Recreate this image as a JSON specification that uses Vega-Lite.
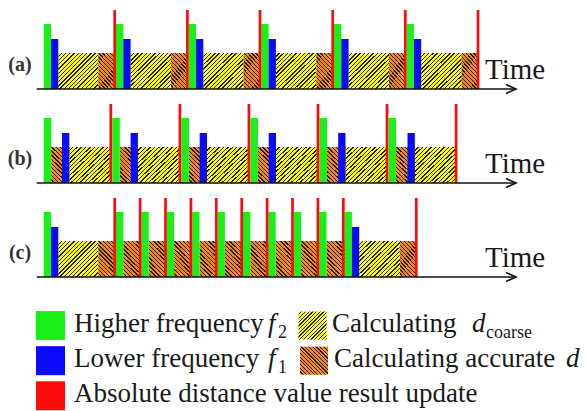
{
"$schema": "https://vega.github.io/schema/vega-lite/v6.json",
"background": "white",
"padding": {"left": 0, "top": 5, "right": 0, "bottom": 0},
"spacing": 0,
"config": {"view": {"stroke": null}, "font": "Liberation Serif", "text": {"font": "Liberation Serif"}},
"resolve": {"scale": {"x": "independent", "y": "independent"}},
"datasets": {
"timeline": [
{"p":"a","k":"axis","lab":"(a)"},
{"p":"b","k":"axis","lab":"(b)"},
{"p":"c","k":"axis","lab":"(c)"},
{"p":"a","k":"g","s":43.7,"e":51.0},{"p":"a","k":"g","s":116.0,"e":123.3},{"p":"a","k":"g","s":188.7,"e":196.0},{"p":"a","k":"g","s":261.3,"e":268.6},{"p":"a","k":"g","s":334.0,"e":341.3},{"p":"a","k":"g","s":406.6,"e":413.9},
{"p":"a","k":"b","s":51.0,"e":58.3},{"p":"a","k":"b","s":123.3,"e":130.6},{"p":"a","k":"b","s":196.0,"e":203.3},{"p":"a","k":"b","s":268.6,"e":275.9},{"p":"a","k":"b","s":341.3,"e":348.6},{"p":"a","k":"b","s":413.9,"e":421.2},
{"p":"a","k":"y","s":58.3,"e":98.3},{"p":"a","k":"y","s":130.6,"e":171.0},{"p":"a","k":"y","s":203.3,"e":243.6},{"p":"a","k":"y","s":275.9,"e":316.3},{"p":"a","k":"y","s":348.6,"e":389.0},{"p":"a","k":"y","s":421.2,"e":461.7},
{"p":"a","k":"o","s":98.3,"e":114.7},{"p":"a","k":"o","s":171.0,"e":187.4},{"p":"a","k":"o","s":243.6,"e":260.0},{"p":"a","k":"o","s":316.3,"e":332.7},{"p":"a","k":"o","s":389.0,"e":405.3},{"p":"a","k":"o","s":461.7,"e":478.0},
{"p":"a","k":"r","s":114.7},{"p":"a","k":"r","s":187.4},{"p":"a","k":"r","s":260.0},{"p":"a","k":"r","s":332.7},{"p":"a","k":"r","s":405.3},{"p":"a","k":"r","s":478.0},
{"p":"b","k":"g","s":43.7,"e":51.2},{"p":"b","k":"g","s":112.3,"e":119.8},{"p":"b","k":"g","s":181.4,"e":188.9},{"p":"b","k":"g","s":250.4,"e":257.9},{"p":"b","k":"g","s":319.5,"e":327.0},{"p":"b","k":"g","s":388.5,"e":396.0},
{"p":"b","k":"b","s":62.0,"e":69.3},{"p":"b","k":"b","s":130.6,"e":137.9},{"p":"b","k":"b","s":199.7,"e":207.0},{"p":"b","k":"b","s":268.7,"e":276.0},{"p":"b","k":"b","s":338.2,"e":345.5},{"p":"b","k":"b","s":407.5,"e":414.8},
{"p":"b","k":"o","s":51.2,"e":69.3},{"p":"b","k":"o","s":119.8,"e":137.9},{"p":"b","k":"o","s":188.9,"e":207.0},{"p":"b","k":"o","s":257.9,"e":276.0},{"p":"b","k":"o","s":327.0,"e":345.5},{"p":"b","k":"o","s":396.0,"e":414.8},
{"p":"b","k":"y","s":69.3,"e":110.8},{"p":"b","k":"y","s":137.9,"e":179.9},{"p":"b","k":"y","s":207.0,"e":248.9},{"p":"b","k":"y","s":276.0,"e":318.0},{"p":"b","k":"y","s":345.5,"e":387.0},{"p":"b","k":"y","s":414.8,"e":456.1},
{"p":"b","k":"r","s":110.8},{"p":"b","k":"r","s":179.9},{"p":"b","k":"r","s":248.9},{"p":"b","k":"r","s":318.0},{"p":"b","k":"r","s":387.0},{"p":"b","k":"r","s":456.1},
{"p":"c","k":"g","s":43.7,"e":51.0},{"p":"c","k":"g","s":116.0,"e":123.3},{"p":"c","k":"g","s":141.4,"e":148.7},{"p":"c","k":"g","s":166.8,"e":174.1},{"p":"c","k":"g","s":192.2,"e":199.5},{"p":"c","k":"g","s":217.6,"e":224.9},{"p":"c","k":"g","s":243.0,"e":250.3},{"p":"c","k":"g","s":268.4,"e":275.7},{"p":"c","k":"g","s":293.8,"e":301.1},{"p":"c","k":"g","s":319.2,"e":326.5},{"p":"c","k":"g","s":344.6,"e":351.9},
{"p":"c","k":"b","s":51.0,"e":58.3},{"p":"c","k":"b","s":351.9,"e":359.2},
{"p":"c","k":"y","s":58.3,"e":98.3},{"p":"c","k":"y","s":359.2,"e":400.0},
{"p":"c","k":"o","s":98.3,"e":116.0},{"p":"c","k":"o","s":123.3,"e":141.4},{"p":"c","k":"o","s":148.7,"e":166.8},{"p":"c","k":"o","s":174.1,"e":192.2},{"p":"c","k":"o","s":199.5,"e":217.6},{"p":"c","k":"o","s":224.9,"e":243.0},{"p":"c","k":"o","s":250.3,"e":268.4},{"p":"c","k":"o","s":275.7,"e":293.8},{"p":"c","k":"o","s":301.1,"e":319.2},{"p":"c","k":"o","s":326.5,"e":344.6},{"p":"c","k":"o","s":400.0,"e":416.3},
{"p":"c","k":"r","s":114.7},{"p":"c","k":"r","s":140.1},{"p":"c","k":"r","s":165.5},{"p":"c","k":"r","s":190.9},{"p":"c","k":"r","s":216.3},{"p":"c","k":"r","s":241.7},{"p":"c","k":"r","s":267.1},{"p":"c","k":"r","s":292.5},{"p":"c","k":"r","s":317.9},{"p":"c","k":"r","s":343.3},{"p":"c","k":"r","s":416.3}
],
"legend": [
{"role":"sq","c":"green","r":1,"x":50.5},
{"role":"sq","c":"blue","r":2,"x":50.5},
{"role":"sq","c":"red","r":3,"x":50.5},
{"role":"sy","r":1,"x":312.5},
{"role":"so","r":2,"x":314},
{"role":"txt","r":1,"x":74,"t":"Higher frequency"},
{"role":"txt","r":1,"x":332,"t":"Calculating"},
{"role":"txt","r":2,"x":74,"t":"Lower frequency"},
{"role":"txt","r":2,"x":334,"t":"Calculating accurate"},
{"role":"txt","r":3,"x":74,"t":"Absolute distance value result update"},
{"role":"it","r":1,"x":268,"t":"f"},
{"role":"it","r":2,"x":268,"t":"f"},
{"role":"it","r":1,"x":472,"t":"d"},
{"role":"it","r":2,"x":566,"t":"d"},
{"role":"sub","r":1,"x":278,"t":"2"},
{"role":"sub","r":2,"x":278,"t":"1"},
{"role":"sub","r":1,"x":486,"t":"coarse"}
]
},
"vconcat": [
{
"data": {"name": "timeline"},
"facet": {"row": {"field": "p", "type": "nominal", "header": {"labels": false, "title": null}}},
"spacing": 0,
"spec": {
"width": 587,
"height": 94,
"layer": [
{
"transform": [{"filter": "datum.k === 'y'"}],
"mark": {"type": "rect", "strokeWidth": 0, "fill": {"gradient": "linear", "x1": 0, "y1": 0, "x2": 1.0497, "y2": 0.9448, "stops": [
{"offset":0,"color":"#ffff00"},{"offset":0.037,"color":"#ffff00"},{"offset":0.037,"color":"#1a1a1a"},{"offset":0.0556,"color":"#1a1a1a"},
{"offset":0.0556,"color":"#ffff00"},{"offset":0.0926,"color":"#ffff00"},{"offset":0.0926,"color":"#1a1a1a"},{"offset":0.1111,"color":"#1a1a1a"},
{"offset":0.1111,"color":"#ffff00"},{"offset":0.1481,"color":"#ffff00"},{"offset":0.1481,"color":"#1a1a1a"},{"offset":0.1667,"color":"#1a1a1a"},
{"offset":0.1667,"color":"#ffff00"},{"offset":0.2037,"color":"#ffff00"},{"offset":0.2037,"color":"#1a1a1a"},{"offset":0.2222,"color":"#1a1a1a"},
{"offset":0.2222,"color":"#ffff00"},{"offset":0.2593,"color":"#ffff00"},{"offset":0.2593,"color":"#1a1a1a"},{"offset":0.2778,"color":"#1a1a1a"},
{"offset":0.2778,"color":"#ffff00"},{"offset":0.3148,"color":"#ffff00"},{"offset":0.3148,"color":"#1a1a1a"},{"offset":0.3333,"color":"#1a1a1a"},
{"offset":0.3333,"color":"#ffff00"},{"offset":0.3704,"color":"#ffff00"},{"offset":0.3704,"color":"#1a1a1a"},{"offset":0.3889,"color":"#1a1a1a"},
{"offset":0.3889,"color":"#ffff00"},{"offset":0.4259,"color":"#ffff00"},{"offset":0.4259,"color":"#1a1a1a"},{"offset":0.4444,"color":"#1a1a1a"},
{"offset":0.4444,"color":"#ffff00"},{"offset":0.4815,"color":"#ffff00"},{"offset":0.4815,"color":"#1a1a1a"},{"offset":0.5,"color":"#1a1a1a"},
{"offset":0.5,"color":"#ffff00"},{"offset":0.537,"color":"#ffff00"},{"offset":0.537,"color":"#1a1a1a"},{"offset":0.5556,"color":"#1a1a1a"},
{"offset":0.5556,"color":"#ffff00"},{"offset":0.5926,"color":"#ffff00"},{"offset":0.5926,"color":"#1a1a1a"},{"offset":0.6111,"color":"#1a1a1a"},
{"offset":0.6111,"color":"#ffff00"},{"offset":0.6481,"color":"#ffff00"},{"offset":0.6481,"color":"#1a1a1a"},{"offset":0.6667,"color":"#1a1a1a"},
{"offset":0.6667,"color":"#ffff00"},{"offset":0.7037,"color":"#ffff00"},{"offset":0.7037,"color":"#1a1a1a"},{"offset":0.7222,"color":"#1a1a1a"},
{"offset":0.7222,"color":"#ffff00"},{"offset":0.7593,"color":"#ffff00"},{"offset":0.7593,"color":"#1a1a1a"},{"offset":0.7778,"color":"#1a1a1a"},
{"offset":0.7778,"color":"#ffff00"},{"offset":0.8148,"color":"#ffff00"},{"offset":0.8148,"color":"#1a1a1a"},{"offset":0.8333,"color":"#1a1a1a"},
{"offset":0.8333,"color":"#ffff00"},{"offset":0.8704,"color":"#ffff00"},{"offset":0.8704,"color":"#1a1a1a"},{"offset":0.8889,"color":"#1a1a1a"},
{"offset":0.8889,"color":"#ffff00"},{"offset":0.9259,"color":"#ffff00"},{"offset":0.9259,"color":"#1a1a1a"},{"offset":0.9444,"color":"#1a1a1a"},
{"offset":0.9444,"color":"#ffff00"},{"offset":0.9815,"color":"#ffff00"},{"offset":0.9815,"color":"#1a1a1a"},{"offset":1,"color":"#1a1a1a"}
]}},
"encoding": {
"x": {"field": "s", "type": "quantitative", "scale": {"domain": [0, 587], "nice": false, "zero": false}, "axis": null},
"x2": {"field": "e"},
"y": {"datum": 0, "type": "quantitative", "scale": {"domain": [-10, 84], "nice": false, "zero": false}, "axis": null},
"y2": {"datum": 36}
}
},
{
"transform": [{"filter": "datum.k === 'o'"}],
"mark": {"type": "rect", "strokeWidth": 0, "fill": {"gradient": "linear", "x1": 0, "y1": 1, "x2": 0.5843, "y2": -0.202, "stops": [
{"offset":0,"color":"#f5890f"},{"offset":0.0513,"color":"#f5890f"},{"offset":0.0513,"color":"#1a1a1a"},{"offset":0.0769,"color":"#1a1a1a"},
{"offset":0.0769,"color":"#f5890f"},{"offset":0.1282,"color":"#f5890f"},{"offset":0.1282,"color":"#1a1a1a"},{"offset":0.1538,"color":"#1a1a1a"},
{"offset":0.1538,"color":"#f5890f"},{"offset":0.2051,"color":"#f5890f"},{"offset":0.2051,"color":"#1a1a1a"},{"offset":0.2308,"color":"#1a1a1a"},
{"offset":0.2308,"color":"#f5890f"},{"offset":0.2821,"color":"#f5890f"},{"offset":0.2821,"color":"#1a1a1a"},{"offset":0.3077,"color":"#1a1a1a"},
{"offset":0.3077,"color":"#f5890f"},{"offset":0.359,"color":"#f5890f"},{"offset":0.359,"color":"#1a1a1a"},{"offset":0.3846,"color":"#1a1a1a"},
{"offset":0.3846,"color":"#f5890f"},{"offset":0.4359,"color":"#f5890f"},{"offset":0.4359,"color":"#1a1a1a"},{"offset":0.4615,"color":"#1a1a1a"},
{"offset":0.4615,"color":"#f5890f"},{"offset":0.5128,"color":"#f5890f"},{"offset":0.5128,"color":"#1a1a1a"},{"offset":0.5385,"color":"#1a1a1a"},
{"offset":0.5385,"color":"#f5890f"},{"offset":0.5897,"color":"#f5890f"},{"offset":0.5897,"color":"#1a1a1a"},{"offset":0.6154,"color":"#1a1a1a"},
{"offset":0.6154,"color":"#f5890f"},{"offset":0.6667,"color":"#f5890f"},{"offset":0.6667,"color":"#1a1a1a"},{"offset":0.6923,"color":"#1a1a1a"},
{"offset":0.6923,"color":"#f5890f"},{"offset":0.7436,"color":"#f5890f"},{"offset":0.7436,"color":"#1a1a1a"},{"offset":0.7692,"color":"#1a1a1a"},
{"offset":0.7692,"color":"#f5890f"},{"offset":0.8205,"color":"#f5890f"},{"offset":0.8205,"color":"#1a1a1a"},{"offset":0.8462,"color":"#1a1a1a"},
{"offset":0.8462,"color":"#f5890f"},{"offset":0.8974,"color":"#f5890f"},{"offset":0.8974,"color":"#1a1a1a"},{"offset":0.9231,"color":"#1a1a1a"},
{"offset":0.9231,"color":"#f5890f"},{"offset":0.9744,"color":"#f5890f"},{"offset":0.9744,"color":"#1a1a1a"},{"offset":1,"color":"#1a1a1a"}
]}},
"encoding": {
"x": {"field": "s", "type": "quantitative", "scale": {"domain": [0, 587], "nice": false, "zero": false}, "axis": null},
"x2": {"field": "e"},
"y": {"datum": 0, "type": "quantitative", "scale": {"domain": [-10, 84], "nice": false, "zero": false}, "axis": null},
"y2": {"datum": 36}
}
},
{
"transform": [{"filter": "datum.k === 'g'"}],
"mark": {"type": "rect", "fill": "#18f018", "strokeWidth": 0},
"encoding": {
"x": {"field": "s", "type": "quantitative", "scale": {"domain": [0, 587], "nice": false, "zero": false}, "axis": null},
"x2": {"field": "e"},
"y": {"datum": 0, "type": "quantitative", "scale": {"domain": [-10, 84], "nice": false, "zero": false}, "axis": null},
"y2": {"datum": 65}
}
},
{
"transform": [{"filter": "datum.k === 'b'"}],
"mark": {"type": "rect", "fill": "#0a0aff", "strokeWidth": 0},
"encoding": {
"x": {"field": "s", "type": "quantitative", "scale": {"domain": [0, 587], "nice": false, "zero": false}, "axis": null},
"x2": {"field": "e"},
"y": {"datum": 0, "type": "quantitative", "scale": {"domain": [-10, 84], "nice": false, "zero": false}, "axis": null},
"y2": {"datum": 50}
}
},
{
"transform": [{"filter": "datum.k === 'r'"}],
"mark": {"type": "rule", "stroke": "#ff0a0a", "strokeWidth": 2.7},
"encoding": {
"x": {"field": "s", "type": "quantitative", "scale": {"domain": [0, 587], "nice": false, "zero": false}, "axis": null},
"y": {"datum": 0, "type": "quantitative", "scale": {"domain": [-10, 84], "nice": false, "zero": false}, "axis": null},
"y2": {"datum": 79}
}
},
{
"transform": [{"filter": "datum.k === 'axis'"}],
"mark": {"type": "rule", "stroke": "#111111", "strokeWidth": 1.6},
"encoding": {
"x": {"datum": 36.7, "type": "quantitative", "scale": {"domain": [0, 587], "nice": false, "zero": false}, "axis": null},
"x2": {"datum": 515},
"y": {"datum": 0, "type": "quantitative", "scale": {"domain": [-10, 84], "nice": false, "zero": false}, "axis": null}
}
},
{
"transform": [{"filter": "datum.k === 'axis'"}],
"mark": {"type": "point", "shape": "M-1,-0.45L0,0L-1,0.45", "size": 400, "filled": false, "stroke": "#111111", "strokeWidth": 1.6, "opacity": 1},
"encoding": {
"x": {"datum": 516, "type": "quantitative", "scale": {"domain": [0, 587], "nice": false, "zero": false}, "axis": null},
"y": {"datum": 0, "type": "quantitative", "scale": {"domain": [-10, 84], "nice": false, "zero": false}, "axis": null}
}
},
{
"transform": [{"filter": "datum.k === 'axis'"}],
"mark": {"type": "text", "text": "Time", "font": "Liberation Serif", "fontSize": 29, "align": "left", "baseline": "alphabetic", "color": "#1a1a1a"},
"encoding": {
"x": {"datum": 485, "type": "quantitative", "scale": {"domain": [0, 587], "nice": false, "zero": false}, "axis": null},
"y": {"datum": 10, "type": "quantitative", "scale": {"domain": [-10, 84], "nice": false, "zero": false}, "axis": null}
}
},
{
"transform": [{"filter": "datum.k === 'axis'"}],
"mark": {"type": "text", "font": "Liberation Serif", "fontSize": 20, "fontWeight": "bold", "align": "center", "baseline": "alphabetic", "color": "#333333"},
"encoding": {
"x": {"datum": 20, "type": "quantitative", "scale": {"domain": [0, 587], "nice": false, "zero": false}, "axis": null},
"y": {"datum": 18, "type": "quantitative", "scale": {"domain": [-10, 84], "nice": false, "zero": false}, "axis": null},
"text": {"field": "lab"}
}
}
]
}
},
{
"width": 587,
"height": 124,
"data": {"name": "legend"},
"layer": [
{
"transform": [{"filter": "datum.role === 'sq'"}],
"mark": {"type": "point", "shape": "square", "size": 841, "filled": true, "opacity": 1, "strokeWidth": 0},
"encoding": {
"x": {"field": "x", "type": "quantitative", "scale": {"domain": [0, 587], "nice": false, "zero": false}, "axis": null},
"y": {"field": "r", "type": "quantitative", "scale": {"domain": [-0.0986, 3.4338], "reverse": true, "nice": false, "zero": false}, "axis": null},
"color": {"field": "c", "type": "nominal", "scale": {"domain": ["green", "blue", "red"], "range": ["#18f018", "#0a0aff", "#ff0a0a"]}, "legend": null}
}
},
{
"transform": [{"filter": "datum.role === 'sy'"}],
"mark": {"type": "point", "shape": "square", "size": 784, "filled": true, "opacity": 1, "strokeWidth": 0, "fill": {"gradient": "linear", "x1": 0, "y1": 0, "x2": 1, "y2": 1, "stops": [
{"offset":0,"color":"#ffff00"},{"offset":0.0444,"color":"#ffff00"},{"offset":0.0444,"color":"#1a1a1a"},{"offset":0.0667,"color":"#1a1a1a"},
{"offset":0.0667,"color":"#ffff00"},{"offset":0.1111,"color":"#ffff00"},{"offset":0.1111,"color":"#1a1a1a"},{"offset":0.1333,"color":"#1a1a1a"},
{"offset":0.1333,"color":"#ffff00"},{"offset":0.1778,"color":"#ffff00"},{"offset":0.1778,"color":"#1a1a1a"},{"offset":0.2,"color":"#1a1a1a"},
{"offset":0.2,"color":"#ffff00"},{"offset":0.2444,"color":"#ffff00"},{"offset":0.2444,"color":"#1a1a1a"},{"offset":0.2667,"color":"#1a1a1a"},
{"offset":0.2667,"color":"#ffff00"},{"offset":0.3111,"color":"#ffff00"},{"offset":0.3111,"color":"#1a1a1a"},{"offset":0.3333,"color":"#1a1a1a"},
{"offset":0.3333,"color":"#ffff00"},{"offset":0.3778,"color":"#ffff00"},{"offset":0.3778,"color":"#1a1a1a"},{"offset":0.4,"color":"#1a1a1a"},
{"offset":0.4,"color":"#ffff00"},{"offset":0.4444,"color":"#ffff00"},{"offset":0.4444,"color":"#1a1a1a"},{"offset":0.4667,"color":"#1a1a1a"},
{"offset":0.4667,"color":"#ffff00"},{"offset":0.5111,"color":"#ffff00"},{"offset":0.5111,"color":"#1a1a1a"},{"offset":0.5333,"color":"#1a1a1a"},
{"offset":0.5333,"color":"#ffff00"},{"offset":0.5778,"color":"#ffff00"},{"offset":0.5778,"color":"#1a1a1a"},{"offset":0.6,"color":"#1a1a1a"},
{"offset":0.6,"color":"#ffff00"},{"offset":0.6444,"color":"#ffff00"},{"offset":0.6444,"color":"#1a1a1a"},{"offset":0.6667,"color":"#1a1a1a"},
{"offset":0.6667,"color":"#ffff00"},{"offset":0.7111,"color":"#ffff00"},{"offset":0.7111,"color":"#1a1a1a"},{"offset":0.7333,"color":"#1a1a1a"},
{"offset":0.7333,"color":"#ffff00"},{"offset":0.7778,"color":"#ffff00"},{"offset":0.7778,"color":"#1a1a1a"},{"offset":0.8,"color":"#1a1a1a"},
{"offset":0.8,"color":"#ffff00"},{"offset":0.8444,"color":"#ffff00"},{"offset":0.8444,"color":"#1a1a1a"},{"offset":0.8667,"color":"#1a1a1a"},
{"offset":0.8667,"color":"#ffff00"},{"offset":0.9111,"color":"#ffff00"},{"offset":0.9111,"color":"#1a1a1a"},{"offset":0.9333,"color":"#1a1a1a"},
{"offset":0.9333,"color":"#ffff00"},{"offset":0.9778,"color":"#ffff00"},{"offset":0.9778,"color":"#1a1a1a"},{"offset":1,"color":"#1a1a1a"}
]}},
"encoding": {
"x": {"field": "x", "type": "quantitative", "scale": {"domain": [0, 587], "nice": false, "zero": false}, "axis": null},
"y": {"field": "r", "type": "quantitative", "scale": {"domain": [-0.0986, 3.4338], "reverse": true, "nice": false, "zero": false}, "axis": null}
}
},
{
"transform": [{"filter": "datum.role === 'so'"}],
"mark": {"type": "point", "shape": "square", "size": 784, "filled": true, "opacity": 1, "strokeWidth": 0, "fill": {"gradient": "linear", "x1": 0, "y1": 1, "x2": 1, "y2": 0, "stops": [
{"offset":0,"color":"#f5890f"},{"offset":0.0444,"color":"#f5890f"},{"offset":0.0444,"color":"#1a1a1a"},{"offset":0.0667,"color":"#1a1a1a"},
{"offset":0.0667,"color":"#f5890f"},{"offset":0.1111,"color":"#f5890f"},{"offset":0.1111,"color":"#1a1a1a"},{"offset":0.1333,"color":"#1a1a1a"},
{"offset":0.1333,"color":"#f5890f"},{"offset":0.1778,"color":"#f5890f"},{"offset":0.1778,"color":"#1a1a1a"},{"offset":0.2,"color":"#1a1a1a"},
{"offset":0.2,"color":"#f5890f"},{"offset":0.2444,"color":"#f5890f"},{"offset":0.2444,"color":"#1a1a1a"},{"offset":0.2667,"color":"#1a1a1a"},
{"offset":0.2667,"color":"#f5890f"},{"offset":0.3111,"color":"#f5890f"},{"offset":0.3111,"color":"#1a1a1a"},{"offset":0.3333,"color":"#1a1a1a"},
{"offset":0.3333,"color":"#f5890f"},{"offset":0.3778,"color":"#f5890f"},{"offset":0.3778,"color":"#1a1a1a"},{"offset":0.4,"color":"#1a1a1a"},
{"offset":0.4,"color":"#f5890f"},{"offset":0.4444,"color":"#f5890f"},{"offset":0.4444,"color":"#1a1a1a"},{"offset":0.4667,"color":"#1a1a1a"},
{"offset":0.4667,"color":"#f5890f"},{"offset":0.5111,"color":"#f5890f"},{"offset":0.5111,"color":"#1a1a1a"},{"offset":0.5333,"color":"#1a1a1a"},
{"offset":0.5333,"color":"#f5890f"},{"offset":0.5778,"color":"#f5890f"},{"offset":0.5778,"color":"#1a1a1a"},{"offset":0.6,"color":"#1a1a1a"},
{"offset":0.6,"color":"#f5890f"},{"offset":0.6444,"color":"#f5890f"},{"offset":0.6444,"color":"#1a1a1a"},{"offset":0.6667,"color":"#1a1a1a"},
{"offset":0.6667,"color":"#f5890f"},{"offset":0.7111,"color":"#f5890f"},{"offset":0.7111,"color":"#1a1a1a"},{"offset":0.7333,"color":"#1a1a1a"},
{"offset":0.7333,"color":"#f5890f"},{"offset":0.7778,"color":"#f5890f"},{"offset":0.7778,"color":"#1a1a1a"},{"offset":0.8,"color":"#1a1a1a"},
{"offset":0.8,"color":"#f5890f"},{"offset":0.8444,"color":"#f5890f"},{"offset":0.8444,"color":"#1a1a1a"},{"offset":0.8667,"color":"#1a1a1a"},
{"offset":0.8667,"color":"#f5890f"},{"offset":0.9111,"color":"#f5890f"},{"offset":0.9111,"color":"#1a1a1a"},{"offset":0.9333,"color":"#1a1a1a"},
{"offset":0.9333,"color":"#f5890f"},{"offset":0.9778,"color":"#f5890f"},{"offset":0.9778,"color":"#1a1a1a"},{"offset":1,"color":"#1a1a1a"}
]}},
"encoding": {
"x": {"field": "x", "type": "quantitative", "scale": {"domain": [0, 587], "nice": false, "zero": false}, "axis": null},
"y": {"field": "r", "type": "quantitative", "scale": {"domain": [-0.0986, 3.4338], "reverse": true, "nice": false, "zero": false}, "axis": null}
}
},
{
"transform": [{"filter": "datum.role === 'txt'"}],
"mark": {"type": "text", "font": "Liberation Serif", "fontSize": 27, "align": "left", "baseline": "alphabetic", "dy": 6.7, "color": "#1a1a1a"},
"encoding": {
"x": {"field": "x", "type": "quantitative", "scale": {"domain": [0, 587], "nice": false, "zero": false}, "axis": null},
"y": {"field": "r", "type": "quantitative", "scale": {"domain": [-0.0986, 3.4338], "reverse": true, "nice": false, "zero": false}, "axis": null},
"text": {"field": "t"}
}
},
{
"transform": [{"filter": "datum.role === 'it'"}],
"mark": {"type": "text", "font": "Liberation Serif", "fontSize": 27, "fontStyle": "italic", "align": "left", "baseline": "alphabetic", "dy": 6.7, "color": "#1a1a1a"},
"encoding": {
"x": {"field": "x", "type": "quantitative", "scale": {"domain": [0, 587], "nice": false, "zero": false}, "axis": null},
"y": {"field": "r", "type": "quantitative", "scale": {"domain": [-0.0986, 3.4338], "reverse": true, "nice": false, "zero": false}, "axis": null},
"text": {"field": "t"}
}
},
{
"transform": [{"filter": "datum.role === 'sub'"}],
"mark": {"type": "text", "font": "Liberation Serif", "fontSize": 18, "align": "left", "baseline": "alphabetic", "dy": 12.5, "color": "#1a1a1a"},
"encoding": {
"x": {"field": "x", "type": "quantitative", "scale": {"domain": [0, 587], "nice": false, "zero": false}, "axis": null},
"y": {"field": "r", "type": "quantitative", "scale": {"domain": [-0.0986, 3.4338], "reverse": true, "nice": false, "zero": false}, "axis": null},
"text": {"field": "t"}
}
}
]
}
]
}
